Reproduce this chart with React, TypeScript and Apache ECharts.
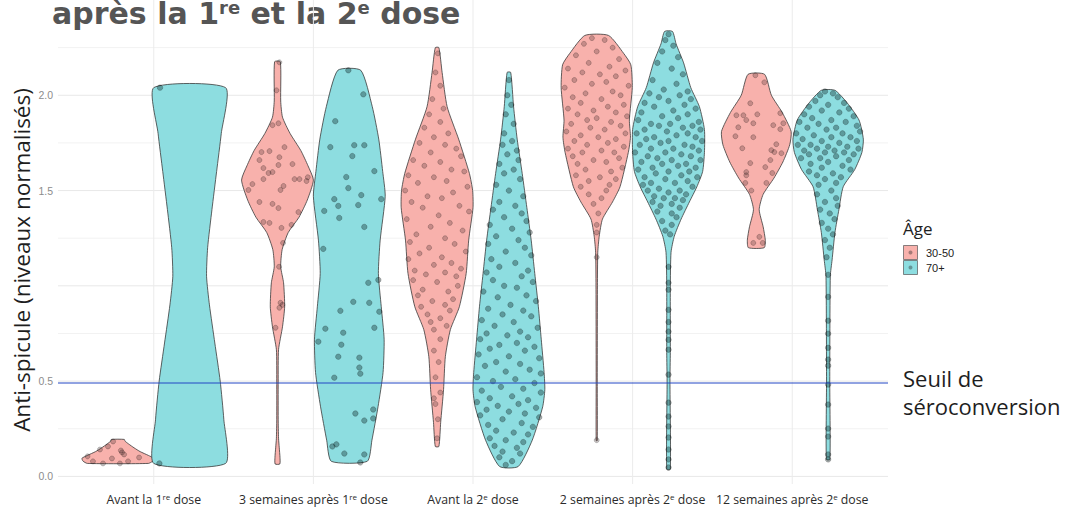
import React, { useEffect, useRef } from "react";
import * as echarts from "echarts";

// ---------- data ----------
const categories = [
  "Avant la 1{s|re} dose",
  "3 semaines après 1{s|re} dose",
  "Avant la 2{s|e} dose",
  "2 semaines après 2{s|e} dose",
  "12 semaines après 2{s|e} dose",
];
const ageGroups = ["30-50", "70+"];
const ageColors = ["#F8B1AC", "#8DDDE0"];
const yTickLabels = [0, 0.5, 1.5, 2.0];
const yGridMajor = [0, 0.5, 1.0, 1.5, 2.0];
const yGridMinor = [0.25, 0.75, 1.25, 1.75, 2.25];
const xGrid = [1, 2, 3, 4, 5];
const threshold = 0.49;

// violin profiles: [value, relative half-width]
const pink1Profile = [[0.068,0.85],[0.08,0.97],[0.095,1.0],[0.11,0.85],[0.13,0.62],[0.15,0.45],[0.17,0.3],[0.185,0.2],[0.194,0.18]];
const teal1Profile = [[0.068,1.0],[0.3,0.95],[0.5,0.85],[0.7,0.7],[0.9,0.55],[1.05,0.47],[1.2,0.5],[1.4,0.62],[1.6,0.75],[1.8,0.88],[2.04,1.0]];
const pink2Profile = [[0.065,0.065],[0.1,0.07],[0.15,0.05],[0.2,0.03],[0.3,0.02],[0.5,0.02],[0.665,0.03],[0.785,0.14],[0.89,0.2],[1.016,0.17],[1.1,0.09],[1.19,0.13],[1.28,0.3],[1.36,0.6],[1.45,0.83],[1.555,1.0],[1.63,0.85],[1.71,0.65],[1.8,0.35],[1.885,0.14],[1.97,0.09],[2.176,0.08]];
const teal2Profile = [[0.079,0.5],[0.19,0.63],[0.365,0.8],[0.545,0.94],[0.72,0.97],[0.89,0.89],[1.065,0.81],[1.24,0.86],[1.47,1.0],[1.6,0.93],[1.77,0.82],[1.94,0.64],[2.131,0.32]];
const pink3Profile = [[0.157,0.05],[0.283,0.1],[0.455,0.18],[0.628,0.23],[0.77,0.37],[0.89,0.62],[1.065,0.81],[1.24,0.88],[1.41,1.0],[1.5,0.99],[1.59,0.9],[1.77,0.6],[1.94,0.28],[2.12,0.14],[2.25,0.05]];
const teal3Profile = [[0.052,0.26],[0.19,0.65],[0.365,0.94],[0.455,1.0],[0.545,0.98],[0.72,0.9],[0.89,0.82],[1.065,0.72],[1.24,0.62],[1.41,0.5],[1.59,0.37],[1.77,0.23],[1.94,0.13],[2.12,0.05]];
const pink4Profile = [[0.188,0.015],[0.5,0.015],[1.0,0.02],[1.176,0.03],[1.26,0.07],[1.35,0.16],[1.44,0.44],[1.52,0.65],[1.7,0.88],[1.78,0.94],[1.87,0.91],[2.04,0.99],[2.16,0.95],[2.22,0.75],[2.314,0.33]];
const teal4Profile = [[0.037,0.05],[0.5,0.04],[0.65,0.05],[0.99,0.05],[1.176,0.07],[1.26,0.16],[1.35,0.35],[1.44,0.58],[1.52,0.79],[1.6,0.95],[1.7,1.0],[1.82,1.0],[1.94,0.86],[2.04,0.62],[2.17,0.42],[2.27,0.21],[2.335,0.11]];
const pink5Profile = [[1.2,0.22],[1.24,0.25],[1.31,0.19],[1.4,0.08],[1.48,0.19],[1.565,0.49],[1.65,0.74],[1.74,0.93],[1.81,0.97],[1.91,0.72],[2.0,0.42],[2.11,0.23]];
const teal5Profile = [[0.089,0.05],[0.5,0.045],[1.05,0.06],[1.136,0.11],[1.28,0.19],[1.4,0.3],[1.52,0.42],[1.61,0.74],[1.7,0.94],[1.77,0.98],[1.87,0.86],[1.96,0.53],[2.026,0.19]];

// jittered observations: [value, horizontal jitter]
const pink1Points = [[0.105,-0.19],[0.079,-0.156],[0.068,-0.093],[0.141,-0.112],[0.157,-0.062],[0.183,-0.03],[0.094,-0.037],[0.068,0.013],[0.126,0.026],[0.115,0.039],[0.079,0.064],[0.099,0.133],[0.136,0.019]];
const teal1Points = [[2.04,-0.186],[0.068,-0.19]];
const pink2Points = [[2.173,0.012],[2.026,-0.006],[1.843,-0.031],[1.853,0.006],[1.702,-0.1],[1.707,-0.05],[1.728,0.044],[1.66,-0.113],[1.675,0.012],[1.618,-0.088],[1.592,-0.056],[1.597,-0.031],[1.639,0.094],[1.634,0.006],[1.503,-0.182],[1.534,-0.157],[1.56,-0.088],[1.524,0.038],[1.503,0.019],[1.56,0.107],[1.56,0.138],[1.55,0.182],[1.57,0.19],[1.44,-0.113],[1.43,-0.031],[1.408,0.006],[1.335,-0.088],[1.33,-0.05],[1.304,0.025],[1.32,0.088],[1.387,0.131],[1.225,0.035],[1.1,0.01],[0.911,0.019],[0.9,0.031],[0.885,0.012],[0.78,-0.012]];
const teal2Points = [[2.131,-0.006],[2.005,0.088],[1.864,-0.088],[1.728,-0.119],[1.738,0.031],[1.738,0.094],[1.681,0.019],[1.571,-0.019],[1.602,0.157],[1.513,-0.006],[1.476,0.075],[1.455,0.2],[1.455,-0.094],[1.393,-0.157],[1.419,-0.069],[1.356,-0.063],[1.424,0.056],[1.309,0.094],[1.194,-0.163],[1.031,0.182],[1.016,0.119],[0.916,0.025],[0.911,0.125],[0.869,-0.056],[0.864,0.188],[0.775,-0.15],[0.754,-0.038],[0.78,0.157],[0.707,-0.194],[0.691,-0.05],[0.628,-0.069],[0.623,0.063],[0.571,0.063],[0.539,0.069],[0.518,-0.094],[0.33,0.038],[0.293,0.094],[0.351,0.15],[0.304,0.15],[0.157,-0.106],[0.168,-0.081],[0.12,-0.031],[0.115,0.094],[0.073,0.069]];
const pink3Points = [[2.22,0.005],[2.12,-0.01],[2.05,0.02],[1.98,-0.03],[1.93,0.04],[1.9,-0.05],[1.86,0.02],[1.83,-0.08],[1.8,0.07],[1.78,-0.02],[1.75,-0.11],[1.74,0.05],[1.72,0.12],[1.7,-0.04],[1.68,0.15],[1.66,-0.15],[1.65,0.02],[1.63,-0.08],[1.61,0.09],[1.6,0.17],[1.58,-0.18],[1.57,-0.02],[1.55,0.06],[1.54,-0.12],[1.52,0.19],[1.5,-0.2],[1.49,0.1],[1.47,-0.06],[1.46,0.03],[1.44,-0.16],[1.42,0.14],[1.41,-0.09],[1.39,0.2],[1.37,0.01],[1.35,-0.19],[1.33,0.08],[1.31,-0.04],[1.29,0.16],[1.27,-0.13],[1.25,0.05],[1.23,-0.17],[1.22,0.11],[1.2,-0.05],[1.18,0.18],[1.17,-0.11],[1.15,0.03],[1.14,-0.18],[1.12,0.09],[1.11,-0.02],[1.09,0.15],[1.08,-0.14],[1.07,0.05],[1.06,-0.07],[1.05,0.12],[1.03,-0.15],[1.02,0.0],[1.0,0.13],[0.98,-0.09],[0.97,0.07],[0.95,-0.12],[0.93,0.1],[0.92,-0.03],[0.9,0.05],[0.89,-0.1],[0.87,0.08],[0.85,-0.06],[0.83,0.02],[0.81,-0.04],[0.79,0.06],[0.77,-0.02],[0.72,0.02],[0.66,-0.02],[0.6,0.01],[0.52,-0.01],[0.44,0.02],[0.41,-0.02],[0.38,-0.01],[0.3,0.005],[0.2,0.0]];
const teal3Points = [[2.08,0.0],[2.0,-0.01],[1.95,0.015],[1.9,-0.02],[1.85,0.03],[1.8,-0.03],[1.76,0.02],[1.74,-0.04],[1.71,0.05],[1.69,-0.01],[1.66,0.06],[1.64,-0.06],[1.61,0.03],[1.59,-0.03],[1.56,0.07],[1.53,-0.08],[1.5,0.0],[1.47,0.09],[1.44,-0.06],[1.42,0.04],[1.4,-0.1],[1.38,0.08],[1.36,-0.03],[1.34,0.11],[1.32,-0.12],[1.3,0.02],[1.28,0.13],[1.26,-0.08],[1.24,0.06],[1.22,-0.13],[1.2,0.1],[1.18,-0.02],[1.16,0.14],[1.14,-0.11],[1.12,0.04],[1.1,-0.06],[1.08,0.12],[1.07,-0.14],[1.05,0.08],[1.03,-0.1],[1.02,0.15],[1.0,-0.03],[0.99,0.05],[0.97,-0.16],[0.95,0.11],[0.94,-0.07],[0.92,0.17],[0.9,0.01],[0.88,-0.13],[0.87,0.09],[0.85,-0.04],[0.84,0.14],[0.82,-0.17],[0.81,0.03],[0.79,-0.09],[0.78,0.18],[0.76,0.07],[0.75,-0.14],[0.74,-0.01],[0.73,0.12],[0.72,-0.18],[0.7,0.05],[0.69,-0.06],[0.68,0.16],[0.67,-0.12],[0.66,0.1],[0.64,-0.19],[0.63,0.0],[0.62,0.19],[0.6,-0.08],[0.59,0.07],[0.58,-0.15],[0.56,0.13],[0.55,-0.02],[0.54,0.2],[0.52,-0.2],[0.51,0.04],[0.5,-0.1],[0.49,0.16],[0.47,-0.05],[0.46,0.09],[0.45,-0.17],[0.44,0.2],[0.42,0.02],[0.41,-0.12],[0.4,0.12],[0.39,-0.2],[0.38,0.06],[0.37,-0.07],[0.36,0.17],[0.35,-0.14],[0.34,0.0],[0.33,0.1],[0.32,-0.18],[0.31,0.19],[0.3,-0.04],[0.28,0.08],[0.27,-0.13],[0.26,0.15],[0.24,-0.08],[0.23,0.03],[0.22,0.12],[0.2,-0.12],[0.19,-0.02],[0.18,0.09],[0.16,-0.09],[0.15,0.05],[0.13,-0.04],[0.12,0.07],[0.1,-0.06],[0.08,0.02],[0.06,-0.02]];
const pink4Points = [[2.3,-0.03],[2.29,0.05],[2.27,-0.08],[2.25,0.1],[2.23,0.0],[2.21,-0.13],[2.19,0.14],[2.17,-0.05],[2.15,0.08],[2.14,-0.18],[2.13,0.18],[2.12,-0.09],[2.11,0.02],[2.1,0.12],[2.08,-0.14],[2.07,0.06],[2.06,-0.03],[2.05,0.2],[2.04,-0.2],[2.02,0.1],[2.01,-0.07],[2.0,0.15],[1.99,-0.15],[1.98,0.03],[1.96,-0.1],[1.95,0.17],[1.94,0.07],[1.93,-0.18],[1.92,-0.02],[1.91,0.12],[1.9,-0.12],[1.89,0.19],[1.88,0.0],[1.87,-0.06],[1.86,0.09],[1.85,-0.16],[1.84,0.15],[1.83,-0.04],[1.82,0.05],[1.81,-0.19],[1.8,0.18],[1.79,-0.1],[1.78,0.01],[1.77,0.12],[1.76,-0.14],[1.75,0.07],[1.74,-0.06],[1.73,0.17],[1.72,-0.18],[1.71,0.03],[1.7,0.11],[1.7,-0.09],[1.68,-0.15],[1.67,0.14],[1.66,-0.02],[1.65,0.06],[1.64,-0.12],[1.62,0.16],[1.61,-0.07],[1.6,0.09],[1.58,-0.13],[1.57,0.02],[1.56,0.12],[1.55,-0.05],[1.53,0.08],[1.52,-0.1],[1.5,0.06],[1.48,-0.05],[1.46,0.03],[1.43,-0.02],[1.38,0.01],[1.32,0.0],[1.28,0.0],[1.15,0.0],[0.19,0.0]];
const teal4Points = [[2.32,0.0],[2.29,-0.02],[2.26,0.03],[2.23,-0.04],[2.2,0.06],[2.17,-0.07],[2.14,0.02],[2.11,0.09],[2.08,-0.1],[2.06,0.05],[2.03,-0.03],[2.02,0.12],[2.01,-0.12],[2.0,0.07],[1.99,-0.06],[1.98,0.14],[1.97,0.0],[1.96,-0.15],[1.95,0.1],[1.94,-0.09],[1.93,0.17],[1.92,0.03],[1.91,-0.17],[1.9,0.12],[1.89,-0.04],[1.88,0.06],[1.87,-0.19],[1.86,0.19],[1.85,-0.11],[1.85,0.01],[1.84,0.15],[1.84,-0.06],[1.83,0.09],[1.82,-0.15],[1.82,0.2],[1.81,-0.01],[1.8,0.12],[1.8,-0.2],[1.79,0.05],[1.78,-0.09],[1.78,0.17],[1.77,-0.14],[1.76,0.0],[1.76,0.21],[1.75,-0.05],[1.74,0.1],[1.74,-0.18],[1.73,0.15],[1.72,-0.11],[1.72,0.03],[1.71,0.19],[1.7,-0.02],[1.7,-0.21],[1.69,0.08],[1.68,-0.13],[1.68,0.14],[1.67,-0.07],[1.66,0.02],[1.66,0.2],[1.65,-0.17],[1.64,0.11],[1.64,-0.04],[1.63,0.06],[1.62,-0.1],[1.62,0.17],[1.61,-0.19],[1.6,0.0],[1.6,0.13],[1.59,-0.08],[1.58,0.08],[1.57,-0.15],[1.57,0.18],[1.56,-0.02],[1.55,0.12],[1.54,-0.11],[1.54,0.04],[1.53,-0.16],[1.52,0.15],[1.51,-0.06],[1.5,0.07],[1.5,-0.13],[1.49,0.0],[1.48,0.11],[1.47,-0.09],[1.46,0.04],[1.46,-0.03],[1.45,0.09],[1.44,-0.1],[1.43,0.02],[1.42,-0.05],[1.41,0.07],[1.39,-0.07],[1.38,0.02],[1.36,0.05],[1.34,-0.04],[1.32,0.02],[1.29,-0.02],[1.27,0.01],[1.1,0.0],[1.016,0.0],[0.98,0.0],[0.874,0.0],[0.81,0.0],[0.76,0.0],[0.717,0.0],[0.665,0.0],[0.534,0.0],[0.387,0.0],[0.314,0.0],[0.262,0.0],[0.204,0.0],[0.141,0.0],[0.089,0.0],[0.047,0.0]];
const pink5Points = [[2.105,-0.006],[2.068,0.05],[1.958,-0.038],[1.895,-0.125],[1.895,-0.081],[1.9,0.006],[1.87,-0.063],[1.853,-0.019],[1.906,0.15],[1.853,0.169],[1.843,0.106],[1.832,-0.113],[1.822,0.15],[1.78,-0.019],[1.785,-0.131],[1.722,-0.088],[1.743,0.125],[1.712,0.094],[1.702,0.113],[1.696,0.157],[1.644,-0.038],[1.66,0.088],[1.623,0.056],[1.597,-0.063],[1.592,0.1],[1.58,-0.063],[1.54,-0.069],[1.54,0.063],[1.5,-0.031],[1.257,0.019],[1.225,-0.019],[1.225,0.04]];
const teal5Points = [[2.02,-0.02],[2.01,0.03],[2.0,-0.05],[1.99,0.06],[1.97,-0.08],[1.96,0.1],[1.95,0.0],[1.94,-0.12],[1.93,0.13],[1.92,-0.04],[1.91,0.07],[1.9,-0.15],[1.89,0.16],[1.88,-0.1],[1.87,0.02],[1.86,-0.18],[1.86,0.11],[1.85,-0.06],[1.84,0.18],[1.83,0.05],[1.83,-0.13],[1.82,-0.01],[1.81,0.2],[1.8,-0.2],[1.8,0.09],[1.79,-0.09],[1.78,0.14],[1.78,0.02],[1.77,-0.16],[1.76,0.18],[1.76,-0.04],[1.75,0.07],[1.74,-0.19],[1.74,-0.11],[1.73,0.12],[1.73,0.0],[1.72,-0.07],[1.72,0.19],[1.71,0.04],[1.71,-0.15],[1.7,0.1],[1.7,-0.02],[1.69,0.16],[1.69,-0.12],[1.68,0.05],[1.67,-0.17],[1.67,-0.05],[1.66,0.13],[1.65,0.0],[1.64,-0.11],[1.63,0.09],[1.62,-0.04],[1.61,0.14],[1.6,-0.12],[1.59,0.03],[1.58,-0.07],[1.57,0.08],[1.56,-0.02],[1.54,0.05],[1.53,-0.06],[1.5,0.02],[1.48,-0.07],[1.46,0.05],[1.44,-0.02],[1.42,0.06],[1.4,-0.05],[1.38,0.01],[1.35,0.04],[1.33,-0.04],[1.3,0.0],[1.27,0.03],[1.24,-0.02],[1.2,0.01],[1.15,-0.01],[1.058,0.0],[0.942,0.0],[0.817,0.0],[0.749,0.0],[0.675,0.0],[0.613,0.0],[0.581,0.0],[0.482,0.0],[0.377,0.0],[0.251,0.0],[0.209,0.0],[0.115,0.0],[0.089,0.0]];

const violins = [
  { cat: 1, age: 0, profile: pink1Profile, points: pink1Points },
  { cat: 1, age: 1, profile: teal1Profile, points: teal1Points },
  { cat: 2, age: 0, profile: pink2Profile, points: pink2Points },
  { cat: 2, age: 1, profile: teal2Profile, points: teal2Points },
  { cat: 3, age: 0, profile: pink3Profile, points: pink3Points },
  { cat: 3, age: 1, profile: teal3Profile, points: teal3Points },
  { cat: 4, age: 0, profile: pink4Profile, points: pink4Points },
  { cat: 4, age: 1, profile: teal4Profile, points: teal4Points },
  { cat: 5, age: 0, profile: pink5Profile, points: pink5Points },
  { cat: 5, age: 1, profile: teal5Profile, points: teal5Points },
];

const HALF = 0.225;
const centerOf = (v: any) => v.cat + (v.age === 0 ? -HALF : HALF);

const FONT = "Open Sans";

export default function App() {
  const ref = useRef<HTMLDivElement>(null);
  useEffect(() => {
    if (!ref.current) return;
    const chart = echarts.init(ref.current, undefined, { renderer: "svg" });

    const pointData = (age: number) =>
      violins
        .filter((v) => v.age === age)
        .flatMap((v) => v.points.map(([val, dx]) => [centerOf(v) + dx, val]));

    const hLine = (color: string, width: number) => (params: any, api: any) => {
      const cs = params.coordSys;
      const y = api.coord([1, api.value(1)])[1];
      return {
        type: "line",
        shape: { x1: cs.x, y1: y, x2: cs.x + cs.width, y2: y },
        style: { stroke: color, lineWidth: width },
      };
    };

    const option: any = {
      animation: false,
      grid: { left: 58, right: 180, top: 0, bottom: 22, containLabel: false },
      xAxis: {
        type: "value",
        min: 0.4,
        max: 5.6,
        axisLine: { show: false },
        axisTick: { show: false },
        splitLine: { show: false },
        axisLabel: {
          customValues: [1, 2, 3, 4, 5],
          formatter: (v: number) =>
            Number.isInteger(v) && v >= 1 && v <= 5 ? categories[v - 1] : "",
          color: "#2b2b2b",
          fontSize: 12.3,
          fontFamily: FONT,
          margin: 8,
          lineHeight: 15,
          rich: {
            s: { fontSize: 8, fontFamily: FONT, color: "#2b2b2b", verticalAlign: "top", lineHeight: 10 },
          },
        },
      },
      yAxis: {
        type: "value",
        min: -0.04,
        max: 2.5,
        axisLine: { show: false },
        axisTick: { show: false },
        splitLine: { show: false },
        axisLabel: {
          customValues: yTickLabels,
          formatter: (v: number) => v.toFixed(1),
          color: "#8c8c8c",
          fontSize: 10.5,
          fontFamily: "Liberation Sans",
          margin: 5,
        },
      },
      series: [
        {
          type: "custom",
          z: 0,
          silent: true,
          data: yGridMinor.map((v) => [1, v]),
          renderItem: hLine("#f2f2f2", 1),
        },
        {
          type: "custom",
          z: 0,
          silent: true,
          data: yGridMajor.map((v) => [1, v]),
          renderItem: hLine("#e8e8e8", 1),
        },
        {
          type: "custom",
          z: 0,
          silent: true,
          data: xGrid.map((x) => [x, 0]),
          renderItem: (params: any, api: any) => {
            const cs = params.coordSys;
            const x = api.coord([api.value(0), 0])[0];
            return {
              type: "line",
              shape: { x1: x, y1: cs.y, x2: x, y2: cs.y + cs.height },
              style: { stroke: "#ebebeb", lineWidth: 1 },
            };
          },
        },
        {
          type: "custom",
          z: 2,
          silent: true,
          data: violins.map((_, i) => [i, 0]),
          renderItem: (params: any, api: any) => {
            const v = violins[api.value(0)];
            const cx = centerOf(v);
            const right = v.profile.map(([y, w]) => api.coord([cx + w * HALF, y]));
            const left = v.profile
              .slice()
              .reverse()
              .map(([y, w]) => api.coord([cx - w * HALF, y]));
            return {
              type: "polygon",
              shape: { points: right.concat(left), smooth: 0.2 },
              style: { fill: ageColors[v.age], stroke: "#3a3a3a", lineWidth: 0.8 },
            };
          },
        },
        ...[0, 1].map((age) => ({
          type: "scatter",
          name: ageGroups[age],
          z: 3,
          silent: true,
          symbolSize: age === 0 ? 5 : 5.5,
          data: pointData(age),
          itemStyle: {
            color: age === 0 ? "rgba(40,20,20,0.3)" : "rgba(0,25,25,0.42)",
            borderColor: "rgba(0,0,0,0.42)",
            borderWidth: 0.6,
          },
        })),
        {
          type: "custom",
          z: 4,
          silent: true,
          data: [[1, threshold]],
          renderItem: hLine("#2346c4", 1),
        },
      ],
      graphic: [
        {
          type: "text",
          x: 52,
          y: 13,
          style: {
            text: "après la 1{s|re} et la 2{s|e} dose",
            fontFamily: "DejaVu Sans",
            fontSize: 30,
            fontWeight: "bold",
            fill: "#555555",
            textVerticalAlign: "middle",
            verticalAlign: "middle",
            rich: {
              s: { fontFamily: "DejaVu Sans", fontSize: 18, fontWeight: "bold", fill: "#555555", verticalAlign: "top" },
            },
          },
        },
        {
          type: "text",
          x: 21,
          y: 260,
          rotation: Math.PI / 2,
          style: {
            text: "Anti-spicule (niveaux normalisés)",
            fontFamily: FONT,
            fontSize: 22.5,
            fill: "#1e1e1e",
            align: "center",
            textAlign: "center",
            verticalAlign: "middle",
            textVerticalAlign: "middle",
          },
        },
        {
          type: "text",
          x: 903,
          y: 228,
          style: {
            text: "Âge",
            fontFamily: FONT,
            fontSize: 17,
            fill: "#1e1e1e",
            verticalAlign: "middle",
            textVerticalAlign: "middle",
          },
        },
        {
          type: "rect",
          shape: { x: 903.5, y: 245.5, width: 14, height: 14 },
          style: { fill: ageColors[0], stroke: "#555", lineWidth: 0.7 },
        },
        { type: "circle", shape: { cx: 910.5, cy: 252.5, r: 2 }, style: { fill: "rgba(40,40,40,0.4)" } },
        {
          type: "rect",
          shape: { x: 903.5, y: 260.5, width: 14, height: 14 },
          style: { fill: ageColors[1], stroke: "#555", lineWidth: 0.7 },
        },
        { type: "circle", shape: { cx: 910.5, cy: 267.5, r: 2 }, style: { fill: "rgba(40,40,40,0.4)" } },
        {
          type: "text",
          x: 926,
          y: 252.5,
          style: { text: ageGroups[0], fontFamily: "Liberation Sans", fontSize: 11, fill: "#222", verticalAlign: "middle", textVerticalAlign: "middle" },
        },
        {
          type: "text",
          x: 926,
          y: 268,
          style: { text: ageGroups[1], fontFamily: "Liberation Sans", fontSize: 11, fill: "#222", verticalAlign: "middle", textVerticalAlign: "middle" },
        },
        {
          type: "text",
          x: 903,
          y: 364,
          style: {
            text: "Seuil de\nséroconversion",
            fontFamily: FONT,
            fontSize: 22,
            lineHeight: 28,
            fill: "#1e1e1e",
            verticalAlign: "top",
            textVerticalAlign: "top",
          },
        },
      ],
    };

    chart.setOption(option);
    return () => chart.dispose();
  }, []);

  return (
    <div
      ref={ref}
      style={{ position: "fixed", left: 0, top: 0, width: 1068, height: 507, background: "#fff" }}
    />
  );
}
